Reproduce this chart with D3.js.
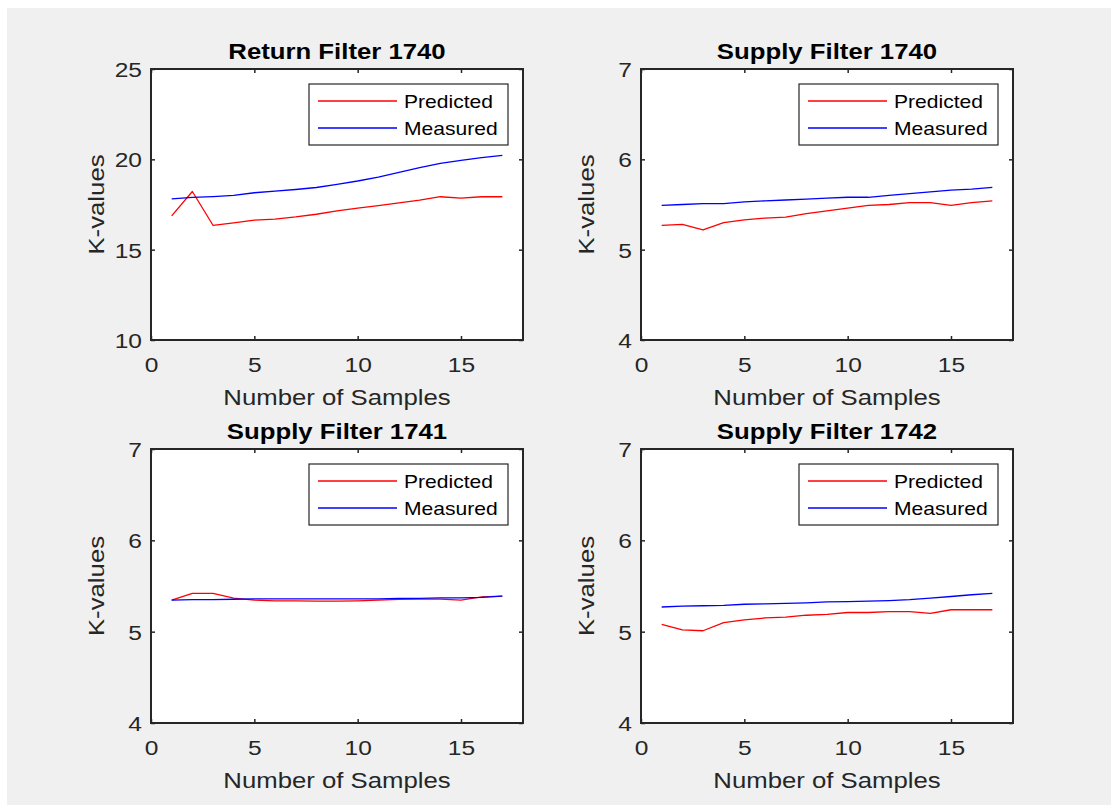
<!DOCTYPE html>
<html>
<head>
<meta charset="utf-8">
<script src="https://cdn.jsdelivr.net/npm/d3@7"></script>
<style>
  html, body { margin: 0; padding: 0; background: #ffffff; }
  svg { display: block; }
</style>
</head>
<body>
<svg id="fig" width="1111" height="805"></svg>
<script>
// ---- data -------------------------------------------------------------
const samples = [1, 2, 3, 4, 5, 6, 7, 8, 9, 10, 11, 12, 13, 14, 15, 16, 17];

const titles = ["Return Filter 1740", "Supply Filter 1740", "Supply Filter 1741", "Supply Filter 1742"];
const seriesNames = ["Predicted", "Measured"];

const predictedReturn1740 = [16.87, 18.22, 16.35, 16.48, 16.63, 16.69, 16.81, 16.96, 17.15, 17.30, 17.44, 17.59, 17.74, 17.93, 17.85, 17.93, 17.93];
const measuredReturn1740  = [17.81, 17.89, 17.94, 18.00, 18.15, 18.24, 18.33, 18.44, 18.61, 18.80, 19.02, 19.28, 19.54, 19.78, 19.94, 20.09, 20.22];

const predictedSupply1740 = [5.27, 5.28, 5.22, 5.30, 5.33, 5.35, 5.36, 5.40, 5.43, 5.46, 5.49, 5.50, 5.52, 5.52, 5.49, 5.52, 5.54];
const measuredSupply1740  = [5.49, 5.50, 5.51, 5.51, 5.53, 5.54, 5.55, 5.56, 5.57, 5.58, 5.58, 5.60, 5.62, 5.64, 5.66, 5.67, 5.69];

const predictedSupply1741 = [5.345, 5.42, 5.42, 5.367, 5.345, 5.338, 5.338, 5.335, 5.335, 5.338, 5.345, 5.353, 5.357, 5.357, 5.345, 5.38, 5.39];
const measuredSupply1741  = [5.345, 5.35, 5.35, 5.355, 5.36, 5.36, 5.36, 5.36, 5.36, 5.36, 5.36, 5.365, 5.365, 5.37, 5.37, 5.375, 5.39];

const predictedSupply1742 = [5.08, 5.02, 5.01, 5.10, 5.13, 5.15, 5.16, 5.18, 5.19, 5.21, 5.21, 5.22, 5.22, 5.20, 5.24, 5.24, 5.24];
const measuredSupply1742  = [5.27, 5.28, 5.284, 5.287, 5.30, 5.305, 5.31, 5.316, 5.327, 5.33, 5.335, 5.34, 5.35, 5.367, 5.385, 5.404, 5.42];

const xTicks = [0, 5, 10, 15];
const yTicksReturn = [10, 15, 20, 25];
const yTicksSupply = [4, 5, 6, 7];

// ---- layout & style ---------------------------------------------------
const FONT = "'Liberation Sans', Arial, Helvetica, sans-serif";
const STRETCH = 1.17;           // horizontal widening of all glyphs
const INK = "#262626";
const COLORS = ["#ff0000", "#0000ff"];
const AX_W = 372;

const panels = [
  { title: titles[0], series: [predictedReturn1740, measuredReturn1740], yTicks: yTicksReturn, left: 151, top: 69,  bottom: 340 },
  { title: titles[1], series: [predictedSupply1740, measuredSupply1740], yTicks: yTicksSupply, left: 641, top: 69,  bottom: 340 },
  { title: titles[2], series: [predictedSupply1741, measuredSupply1741], yTicks: yTicksSupply, left: 151, top: 449, bottom: 723 },
  { title: titles[3], series: [predictedSupply1742, measuredSupply1742], yTicks: yTicksSupply, left: 641, top: 449, bottom: 723 }
];

const svg = d3.select("#fig");

// figure background
svg.append("rect").attr("x", 0).attr("y", 0).attr("width", 1111).attr("height", 805).attr("fill", "#ffffff");
svg.append("rect").attr("x", 7).attr("y", 8).attr("width", 1104).attr("height", 797).attr("fill", "#f0f0f0");

// text placed at (x, y), widened horizontally, optionally rotated
function addText(parent, x, y, str, o) {
  const g = parent.append("g")
    .attr("transform", `translate(${x},${y}) rotate(${o.rotate || 0}) scale(${STRETCH},1)`);
  g.append("text")
    .attr("x", 0).attr("y", 0)
    .attr("text-anchor", o.anchor || "start")
    .attr("font-family", FONT)
    .attr("font-size", o.size)
    .attr("font-weight", o.weight || "normal")
    .attr("fill", o.fill || INK)
    .text(str);
  return g;
}

const fmt = d3.format("d");

panels.forEach(p => {
  const right = p.left + AX_W;
  const x = d3.scaleLinear().domain([0, 18]).range([p.left, right]);
  const y = d3.scaleLinear().domain([p.yTicks[0], p.yTicks[p.yTicks.length - 1]]).range([p.bottom, p.top]);
  const g = svg.append("g");

  // plot area
  g.append("rect")
    .attr("x", p.left).attr("y", p.top)
    .attr("width", right - p.left).attr("height", p.bottom - p.top)
    .attr("fill", "#ffffff");

  // inward ticks on all four sides
  const tick = 4;
  const axB = g.append("g").attr("transform", `translate(0,${p.bottom})`)
    .call(d3.axisBottom(x).tickValues(xTicks).tickFormat(fmt).tickSize(-tick).tickSizeOuter(0));
  const axT = g.append("g").attr("transform", `translate(0,${p.top})`)
    .call(d3.axisTop(x).tickValues(xTicks).tickSize(-tick).tickSizeOuter(0).tickFormat(""));
  const axL = g.append("g").attr("transform", `translate(${p.left},0)`)
    .call(d3.axisLeft(y).tickValues(p.yTicks).tickFormat(fmt).tickSize(-tick).tickSizeOuter(0));
  const axR = g.append("g").attr("transform", `translate(${right},0)`)
    .call(d3.axisRight(y).tickValues(p.yTicks).tickSize(-tick).tickSizeOuter(0).tickFormat(""));

  [axB, axT, axL, axR].forEach(a => {
    a.select(".domain").remove();
    a.selectAll(".tick line").attr("stroke", INK).attr("stroke-width", 1.5);
  });

  axB.selectAll(".tick text")
    .attr("x", 0).attr("y", 0).attr("dy", null)
    .attr("transform", `translate(0,31.5) scale(${STRETCH},1)`)
    .attr("font-family", FONT).attr("font-size", 21).attr("fill", INK);
  axL.selectAll(".tick text")
    .attr("x", 0).attr("y", 0).attr("dy", "0.36em")
    .attr("transform", `translate(-9,0) scale(${STRETCH},1)`)
    .attr("font-family", FONT).attr("font-size", 21).attr("fill", INK);

  // data lines
  p.series.forEach((vals, i) => {
    const line = d3.line().x((d, k) => x(samples[k])).y(d => y(d));
    g.append("path")
      .datum(vals)
      .attr("d", line)
      .attr("fill", "none")
      .attr("stroke", COLORS[i])
      .attr("stroke-width", 1.3)
      .attr("stroke-linejoin", "round");
  });

  // box
  g.append("rect")
    .attr("x", p.left).attr("y", p.top)
    .attr("width", right - p.left).attr("height", p.bottom - p.top)
    .attr("fill", "none").attr("stroke", INK).attr("stroke-width", 2);

  // legend
  const lw = 199, lh = 61;
  const lx = right - 15 - lw, ly = p.top + 15;
  const lg = g.append("g");
  lg.append("rect").attr("x", lx).attr("y", ly).attr("width", lw).attr("height", lh)
    .attr("fill", "#ffffff").attr("stroke", INK).attr("stroke-width", 1.2);
  seriesNames.forEach((name, i) => {
    const ry = ly + 17 + i * 27;
    lg.append("line").attr("x1", lx + 9).attr("x2", lx + 88).attr("y1", ry).attr("y2", ry)
      .attr("stroke", COLORS[i]).attr("stroke-width", 1.3);
    addText(lg, lx + 95, ry + 6.5, name, { size: 18, fill: "#000000" });
  });

  // titles and axis labels
  const cx = (p.left + right) / 2;
  addText(g, cx, p.top - 10, p.title, { size: 22, weight: "bold", anchor: "middle", fill: "#000000" });
  addText(g, cx, p.bottom + 65, "Number of Samples", { size: 22, anchor: "middle" });
  addText(g, p.left - 47, (p.top + p.bottom) / 2, "K-values", { size: 22, anchor: "middle", rotate: -90 });
});
</script>
</body>
</html>
